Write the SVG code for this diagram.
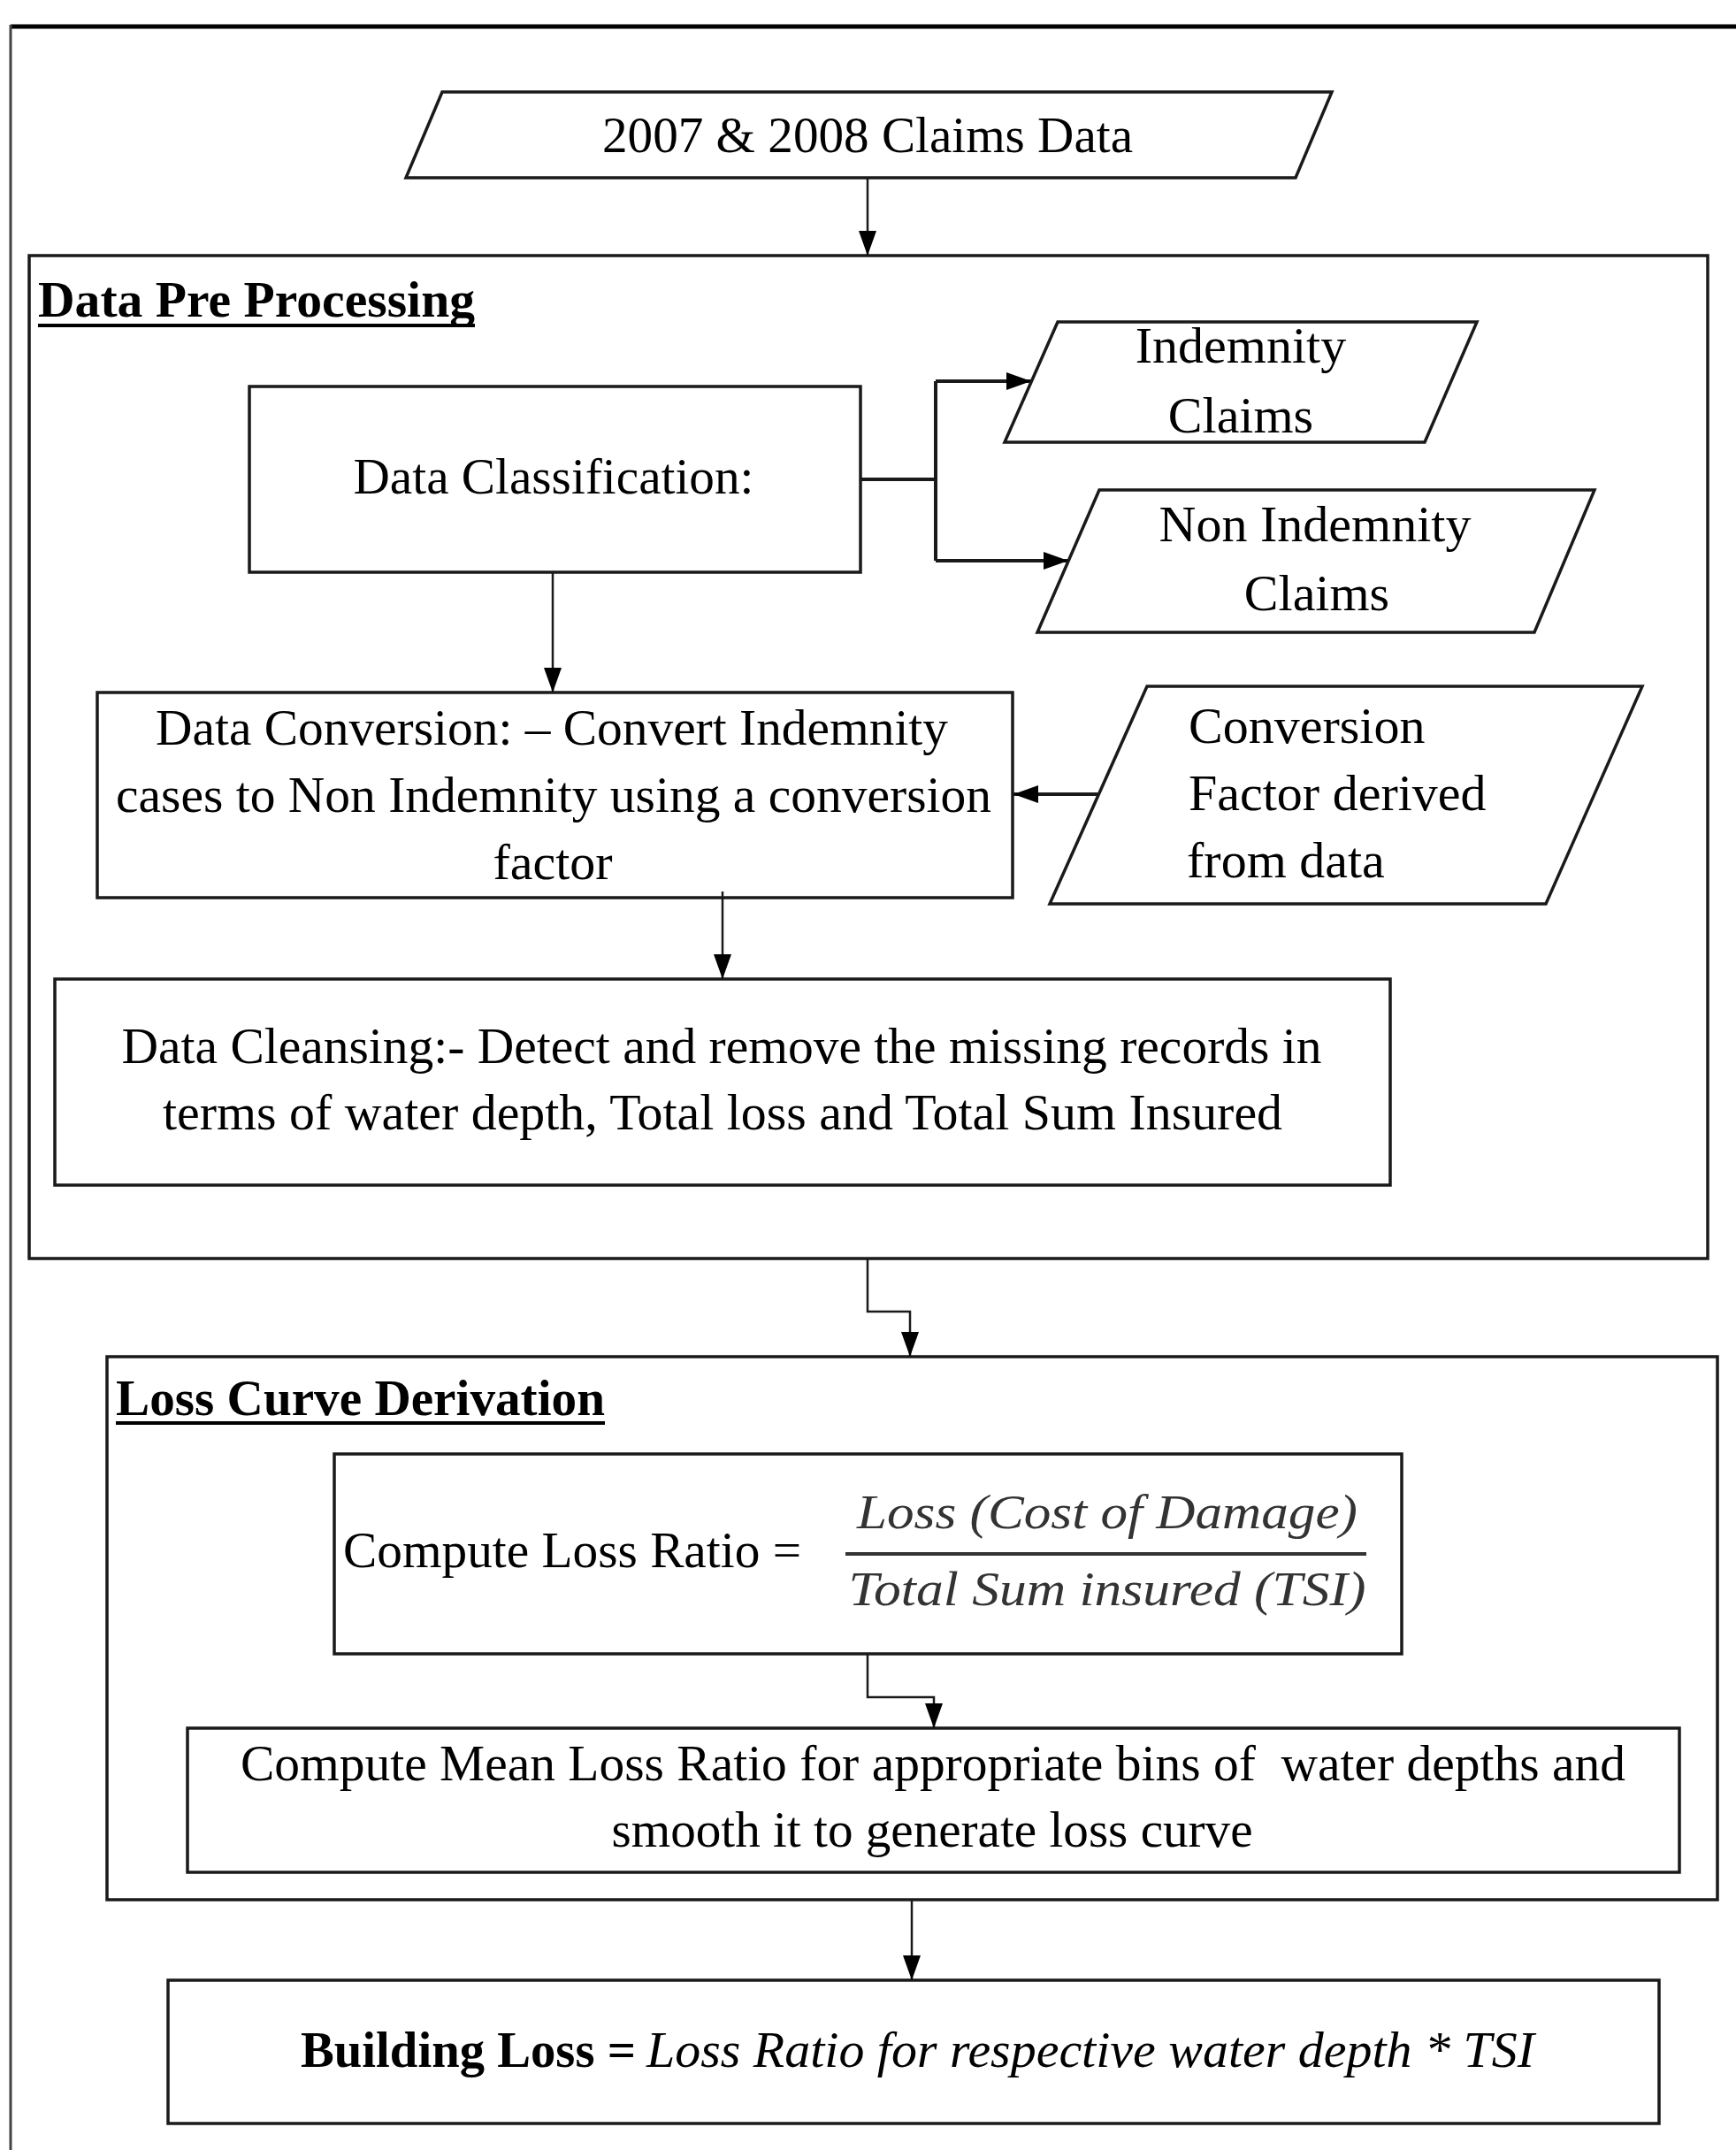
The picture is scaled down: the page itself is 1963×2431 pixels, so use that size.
<svg xmlns="http://www.w3.org/2000/svg" width="1963" height="2431" viewBox="0 0 1963 2431">
<style>
.box{fill:#fff;stroke:#1a1a1a;stroke-width:3.5}
.frame{fill:none;stroke:#1a1a1a;stroke-width:3.5}
.t{font-family:"Liberation Serif","Times New Roman",serif;font-size:58px;fill:#000}
.b{font-weight:bold}
.i{font-style:italic}
.c{text-anchor:middle}
.f{font-family:"Liberation Serif","Times New Roman",serif;font-size:54px;font-style:italic;fill:#333;text-anchor:middle}
.con{fill:none;stroke:#1a1a1a;stroke-width:2.5}
.conb{fill:none;stroke:#1a1a1a;stroke-width:4}
</style>
<defs>
<marker id="ah" markerUnits="userSpaceOnUse" markerWidth="28" markerHeight="20" refX="28" refY="10" orient="auto">
<path d="M0,0 L28,10 L0,20 z" fill="#000"/>
</marker>
</defs>
<rect width="1963" height="2431" fill="#fff"/>
<g id="outer-frame">
<line x1="12" y1="30" x2="1963" y2="30" stroke="#000" stroke-width="5"/>
<line x1="12" y1="28" x2="12" y2="2431" stroke="#444" stroke-width="3"/>
</g>
<g id="claims-data">
<polygon class="box" points="500,104 1506,104 1465,201 459,201"/>
<text class="t c" x="981" y="172" textLength="600" lengthAdjust="spacingAndGlyphs">2007 &amp; 2008 Claims Data</text>
</g>
<g id="data-preprocessing">
<rect class="frame" x="33" y="289" width="1898" height="1134"/>
<text class="t b" x="43" y="358" textLength="494" lengthAdjust="spacingAndGlyphs">Data Pre Processing</text>
<line x1="43" y1="368" x2="537" y2="368" stroke="#000" stroke-width="4"/>
</g>
<g id="data-classification">
<rect class="box" x="282" y="437" width="691" height="210"/>
<text class="t c" x="626" y="558" textLength="453" lengthAdjust="spacingAndGlyphs">Data Classification:</text>
</g>
<g id="indemnity-claims">
<polygon class="box" points="1196,364 1670,364 1611,500 1136,500"/>
<text class="t c" x="1403" y="410">Indemnity</text>
<text class="t c" x="1403" y="489">Claims</text>
</g>
<g id="non-indemnity-claims">
<polygon class="box" points="1243,554 1803,554 1735,715 1173,715"/>
<text class="t c" x="1487" y="612">Non Indemnity</text>
<text class="t c" x="1489" y="690">Claims</text>
</g>
<g id="data-conversion">
<rect class="box" x="110" y="783" width="1035" height="232"/>
<text class="t c" x="624" y="842" textLength="896" lengthAdjust="spacingAndGlyphs">Data Conversion: – Convert Indemnity</text>
<text class="t c" x="626" y="918" textLength="990" lengthAdjust="spacingAndGlyphs">cases to Non Indemnity using a conversion</text>
<text class="t c" x="625" y="994">factor</text>
</g>
<g id="conversion-factor">
<polygon class="box" points="1297,776 1857,776 1748,1022 1187,1022"/>
<text class="t" x="1344" y="840">Conversion</text>
<text class="t" x="1344" y="916">Factor derived</text>
<text class="t" x="1342" y="992">from data</text>
</g>
<g id="data-cleansing">
<rect class="box" x="62" y="1107" width="1510" height="233"/>
<text class="t c" x="816" y="1202" textLength="1357" lengthAdjust="spacingAndGlyphs">Data Cleansing:- Detect and remove the missing records in</text>
<text class="t c" x="817" y="1277" textLength="1266" lengthAdjust="spacingAndGlyphs">terms of water depth, Total loss and Total Sum Insured</text>
</g>
<g id="loss-curve-derivation">
<rect class="frame" x="121" y="1534" width="1821" height="614"/>
<text class="t b" x="131" y="1600" textLength="553" lengthAdjust="spacingAndGlyphs">Loss Curve Derivation</text>
<line x1="131" y1="1609" x2="684" y2="1609" stroke="#000" stroke-width="4"/>
</g>
<g id="compute-loss-ratio">
<rect class="box" x="378" y="1644" width="1207" height="226"/>
<text class="t" x="388" y="1772" textLength="518" lengthAdjust="spacingAndGlyphs">Compute Loss Ratio =</text>
<text class="f" x="1252" y="1728" textLength="566" lengthAdjust="spacingAndGlyphs">Loss (Cost of Damage)</text>
<line x1="956" y1="1757" x2="1545" y2="1757" stroke="#333" stroke-width="4"/>
<text class="f" x="1252" y="1815" textLength="585" lengthAdjust="spacingAndGlyphs">Total Sum insured (TSI)</text>
</g>
<g id="compute-mean-loss-ratio">
<rect class="box" x="212" y="1954" width="1687" height="163"/>
<text class="t c" x="1055" y="2013" textLength="1566" lengthAdjust="spacingAndGlyphs">Compute Mean Loss Ratio for appropriate bins of&#160; water depths and</text>
<text class="t c" x="1054" y="2088" textLength="725" lengthAdjust="spacingAndGlyphs">smooth it to generate loss curve</text>
</g>
<g id="building-loss">
<rect class="box" x="190" y="2239" width="1686" height="162"/>
<text class="t b" x="340" y="2337" font-size="60" textLength="379" lengthAdjust="spacingAndGlyphs">Building Loss =</text>
<text class="t i" x="731" y="2337" font-size="60" textLength="1004" lengthAdjust="spacingAndGlyphs">Loss Ratio for respective water depth * TSI</text>
</g>
<g id="connectors">
<line class="con" x1="981" y1="201" x2="981" y2="289" marker-end="url(#ah)"/>
<polyline class="conb" points="973,542 1058,542"/>
<polyline class="conb" points="1058,431 1058,634"/>
<line class="conb" x1="1058" y1="431" x2="1166" y2="431" marker-end="url(#ah)"/>
<line class="conb" x1="1058" y1="634" x2="1208" y2="634" marker-end="url(#ah)"/>
<line class="con" x1="625" y1="647" x2="625" y2="783" marker-end="url(#ah)"/>
<line class="conb" x1="1242" y1="898" x2="1146" y2="898" marker-end="url(#ah)"/>
<line class="con" x1="817" y1="1008" x2="817" y2="1107" marker-end="url(#ah)"/>
<polyline class="con" points="981,1423 981,1483 1029,1483 1029,1534" marker-end="url(#ah)"/>
<polyline class="con" points="981,1870 981,1919 1056,1919 1056,1954" marker-end="url(#ah)"/>
<line class="con" x1="1031" y1="2148" x2="1031" y2="2239" marker-end="url(#ah)"/>
</g>
</svg>
